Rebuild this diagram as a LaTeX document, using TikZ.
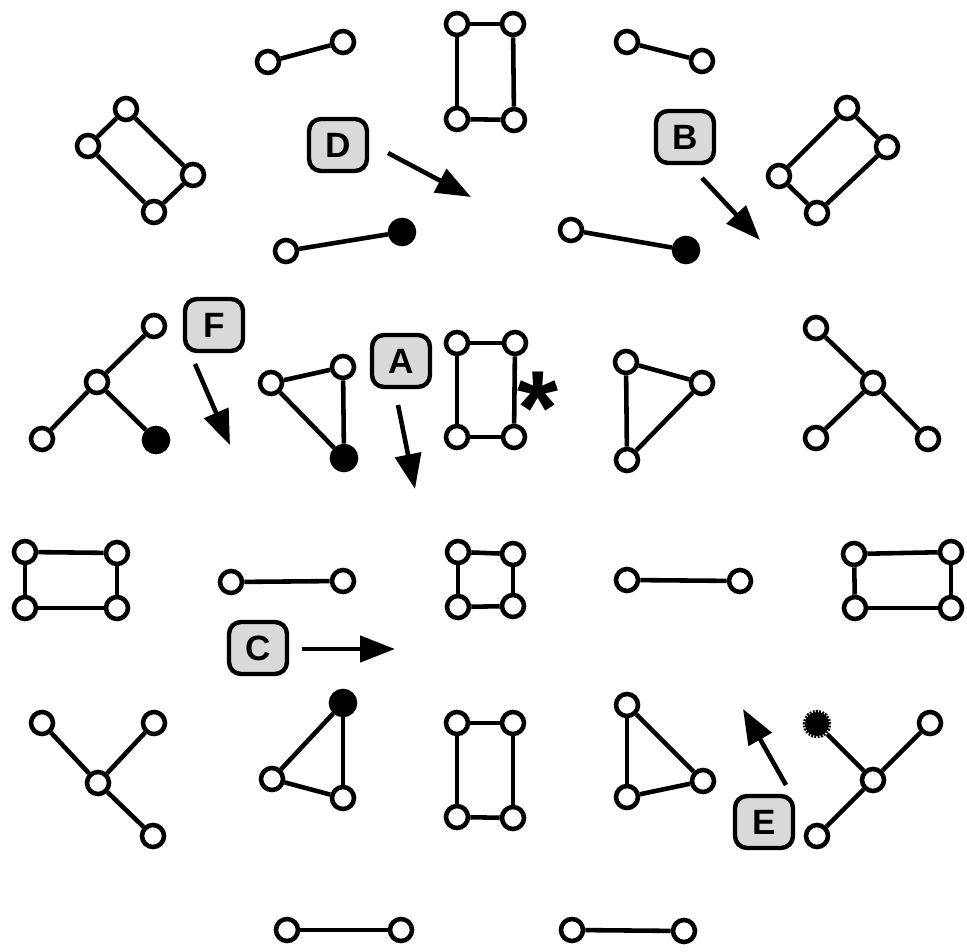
\documentclass[tikz,border=0pt]{standalone}
\usepackage{fontspec}
\setmainfont{Liberation Sans}
\usetikzlibrary{arrows.meta}

\definecolor{badgegray}{HTML}{D9D9D9}
\tikzset{
  vtx/.style={circle,draw,line width=2.6pt,fill=white,inner sep=0pt,minimum size=0.44cm},
  vfull/.style={vtx,fill=black,minimum size=0.48cm},
  vfuzzy/.style={vfull,dash pattern=on 1pt off 0.7pt},
  link/.style={line width=2.6pt},
  badge/.style={draw,line width=2.5pt,rounded corners=0.24cm,fill=badgegray,
    minimum width=1.16cm,minimum height=1.04cm,inner sep=0pt,
    font=\bfseries\fontsize{20}{20}\selectfont},
  pointer/.style={-{Triangle[length=0.7cm,width=0.52cm]},line width=2.6pt}
}

\begin{document}
\begin{tikzpicture}[x=0.02cm,y=-0.02cm]
  \useasboundingbox (0,0) rectangle (967,952);

  \foreach \n/\x/\y in {a1/268/62,a2/343/42,b1/457/24,b2/513/24,b3/514/120,b4/457/119,
      c1/627/42,c2/702/61,d1/126/109,d2/88/146,d3/154/212,d4/193/175,
      f1/847/108,f2/887/147,f3/817/213,f4/779/176,g1/286/251,h1/571/230,
      i0/97/382,i1/154/326,i2/42/439,j1/271/383,j2/343/367,
      k1/457/343,k2/515/343,k3/514/437,k4/457/437,l1/626/362,l2/702/383,l3/627/460,
      m0/873/383,m1/816/328,m2/816/438,m3/928/439,
      n1/25/552,n2/117/553,n3/117/608,n4/25/608,o1/231/582,o2/343/581,
      p1/458/552,p2/513/554,p3/513/606,p4/458/607,q1/627/580,q2/740/581,
      s1/854/554,s2/951/552,s3/951/608,s4/855/608,
      t0/98/783,t1/42/723,t2/154/723,t3/153/836,u2/272/779,u3/343/798,
      v1/457/723,v2/513/723,v3/513/818,v4/457/817,w1/627/705,w2/703/781,w3/627/797,
      x0/873/780,x2/930/723,x3/817/836,y1/287/930,y2/401/930,z1/572/930,z2/684/931}
    \node[vtx] (\n) at (\x,\y) {};
  \foreach \n/\x/\y in {g2/402/232,h2/686/250,i3/156/440,j3/344/458,u1/343/703}
    \node[vfull] (\n) at (\x,\y) {};
  \node[vfuzzy] (x1) at (817,724) {};

  \foreach \a/\b in {a1/a2,b1/b2,b2/b3,b3/b4,b4/b1,c1/c2,d1/d2,d2/d3,d3/d4,d4/d1,
      f1/f2,f2/f3,f3/f4,f4/f1,g1/g2,h1/h2,i0/i1,i0/i2,i0/i3,j1/j2,j2/j3,j3/j1,
      k1/k2,k2/k3,k3/k4,k4/k1,l1/l2,l2/l3,l3/l1,m0/m1,m0/m2,m0/m3,
      n1/n2,n2/n3,n3/n4,n4/n1,o1/o2,p1/p2,p2/p3,p3/p4,p4/p1,q1/q2,s1/s2,s2/s3,s3/s4,s4/s1,
      t0/t1,t0/t2,t0/t3,u1/u2,u2/u3,u3/u1,v1/v2,v2/v3,v3/v4,v4/v1,w1/w2,w2/w3,w3/w1,
      x0/x1,x0/x2,x0/x3,y1/y2,z1/z2}
    \draw[link] (\a) -- (\b);

  \node[font=\bfseries\fontsize{60}{60}\selectfont] (star) at (538,408) {*};

  \node[badge] (D) at (338,145) {D};
  \node[badge] (B) at (685,137) {B};
  \node[badge] (F) at (214,325) {F};
  \node[badge] (A) at (401,361) {A};
  \node[badge] (C) at (258,648) {C};
  \node[badge] (E) at (764,822) {E};

  \foreach \s/\sx/\sy/\tx/\ty in {D/388/153/471/197,B/702/178/760/240,F/195/364/230/445,
      A/398/405/415/489,C/302/649/395/649,E/786/785/743/709} {
    \coordinate (\s from) at (\sx,\sy);
    \coordinate (\s to) at (\tx,\ty);
    \draw[pointer] (\s from) -- (\s to);
  }
\end{tikzpicture}
\end{document}
